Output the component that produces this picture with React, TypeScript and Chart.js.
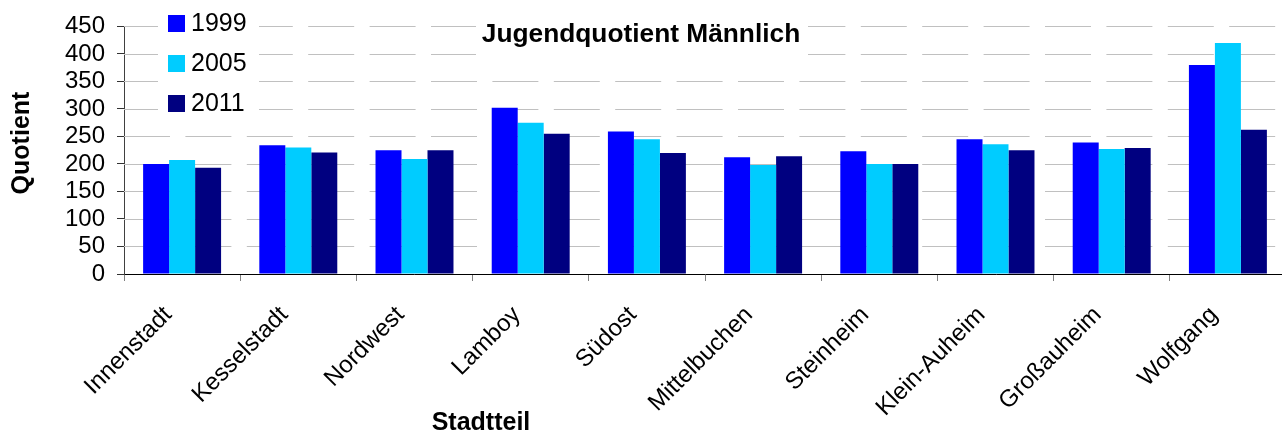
import React, { useEffect, useRef } from "react";
import { Chart, registerables } from "chart.js";

Chart.register(...registerables);

const categories = [
  "Innenstadt",
  "Kesselstadt",
  "Nordwest",
  "Lamboy",
  "Südost",
  "Mittelbuchen",
  "Steinheim",
  "Klein-Auheim",
  "Großauheim",
  "Wolfgang",
];
const seriesLabels = ["1999", "2005", "2011"];
const values1999 = [200, 234, 225, 302, 259, 212, 223, 245, 239, 380];
const values2005 = [207, 230, 209, 275, 245, 198, 200, 236, 227, 420];
const values2011 = [193, 221, 225, 255, 220, 214, 200, 225, 229, 262];
const seriesColors = ["#0000ff", "#00ccff", "#000080"];
const yTicks = { min: 0, max: 450, step: 50 };
const chartTitle = "Jugendquotient Männlich";
const xTitle = "Stadtteil";
const yTitle = "Quotient";

const FONT = "'Liberation Sans', Arial, sans-serif";

const gridPlugin = {
  id: "dashedGrid",
  beforeDatasetsDraw(chart: any) {
    const ctx = chart.ctx;
    const yScale = chart.scales.y;
    const { left, right } = chart.chartArea;
    ctx.save();
    ctx.strokeStyle = "#c0c0c0";
    ctx.lineWidth = 1;
    ctx.setLineDash([46, 15.4]);
    yScale.ticks.forEach((t: any) => {
      if (t.value === yTicks.min) return;
      const y = Math.round(yScale.getPixelForValue(t.value)) + 0.5;
      ctx.beginPath();
      ctx.moveTo(left, y);
      ctx.lineTo(right, y);
      ctx.stroke();
    });
    ctx.restore();
  },
};

const overlayPlugin = {
  id: "overlay",
  afterDraw(chart: any) {
    const ctx = chart.ctx;
    ctx.save();
    ctx.fillStyle = "#ffffff";
    ctx.fillRect(158, 0, 101, 120);
    ctx.fillRect(476, 8, 332, 54);

    const ds = chart.data.datasets;
    ctx.font = `25px ${FONT}`;
    ctx.textAlign = "left";
    ctx.textBaseline = "middle";
    ds.forEach((d: any, i: number) => {
      const cy = 23.5 + i * 40;
      ctx.fillStyle = d.backgroundColor;
      ctx.fillRect(168, cy - 8.5, 17, 17);
      ctx.fillStyle = "#000";
      ctx.fillText(d.label, 191, cy + 1);
    });

    ctx.font = `bold 26.3px ${FONT}`;
    ctx.textAlign = "center";
    ctx.fillStyle = "#000";
    ctx.fillText(chartTitle, 641, 35);

    ctx.font = `bold 25px ${FONT}`;
    ctx.fillText(xTitle, 481, 423);

    ctx.translate(22, 143);
    ctx.rotate(-Math.PI / 2);
    ctx.fillText(yTitle, 0, 0);
    ctx.restore();
  },
};

export default function App() {
  const ref = useRef<HTMLCanvasElement | null>(null);

  useEffect(() => {
    if (!ref.current) return;
    const chart = new Chart(ref.current, {
      type: "bar",
      data: {
        labels: categories,
        datasets: [values1999, values2005, values2011].map((v, i) => ({
          label: seriesLabels[i],
          data: v,
          backgroundColor: seriesColors[i],
          borderWidth: 0,
          barPercentage: 1,
          categoryPercentage: 0.671,
        })),
      },
      options: {
        responsive: false,
        animation: false,
        layout: { padding: { top: 22, right: 0, left: 0, bottom: 0 } },
        plugins: {
          legend: { display: false },
          title: { display: false },
          tooltip: { enabled: false },
        },
        scales: {
          x: {
            afterFit: (scale: any) => {
              scale.height = 161;
            },
            grid: {
              drawOnChartArea: false,
              drawTicks: true,
              tickLength: 7,
              tickColor: "#808080",
              offset: true,
            },
            border: { color: "#000000", width: 1 },
            ticks: {
              minRotation: 45,
              maxRotation: 45,
              autoSkip: false,
              padding: 20,
              labelOffset: -14,
              color: "#000",
              font: { family: FONT, size: 24 },
            },
          },
          y: {
            min: yTicks.min,
            max: yTicks.max,
            afterFit: (scale: any) => {
              scale.width = 124;
            },
            grid: {
              drawOnChartArea: false,
              drawTicks: true,
              tickLength: 7,
              tickColor: "#333333",
              tickWidth: 1,
            },
            border: { color: "#404040", width: 1 },
            ticks: {
              stepSize: yTicks.step,
              autoSkip: false,
              padding: 12,
              color: "#000",
              font: { family: FONT, size: 24 },
            },
          },
        },
      },
      plugins: [gridPlugin, overlayPlugin],
    });
    return () => chart.destroy();
  }, []);

  return (
    <div style={{ position: "fixed", left: 0, top: 0, width: 1286, height: 435, background: "#fff" }}>
      <canvas ref={ref} width={1286} height={435} style={{ display: "block" }} />
    </div>
  );
}
